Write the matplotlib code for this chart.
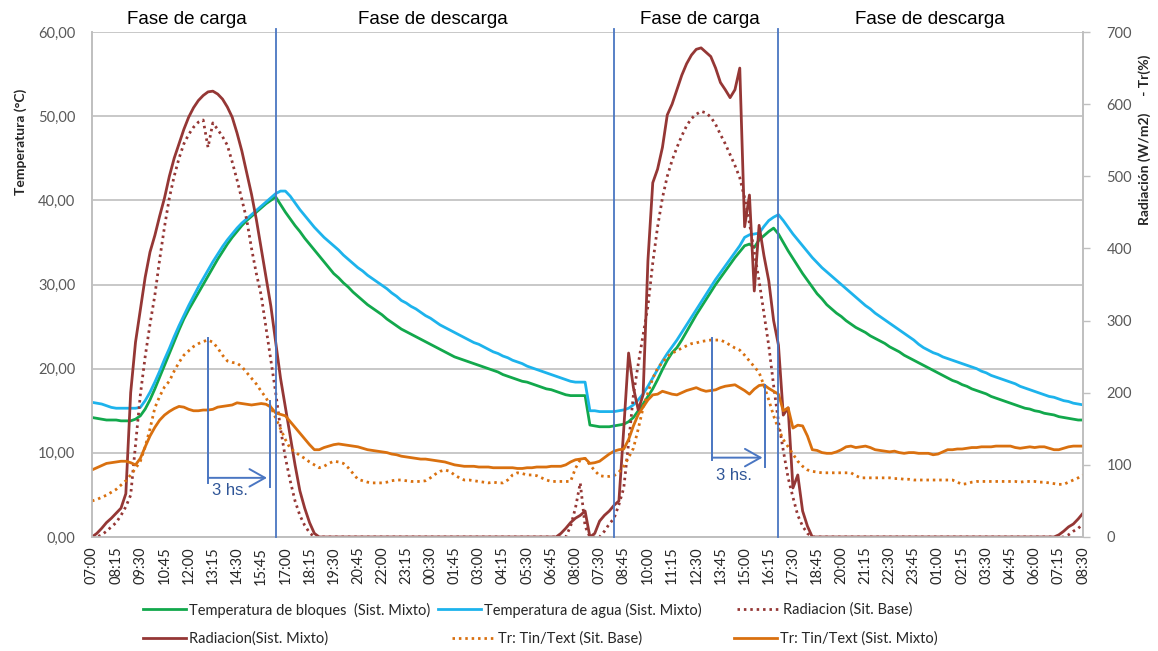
#Temperaturas, radiacion y Tr - sistema mixto vs sistema base (2 dias, cada 15 min)

import numpy as np
import matplotlib
matplotlib.use('Agg')
from matplotlib import pyplot as plt
from matplotlib import transforms

plt.rcParams['font.family'] = ['Lato', 'DejaVu Sans']

#tick labels of the category axis (every 5 points = 75 min)
xlabels = ['07:00', '08:15', '09:30', '10:45', '12:00', '13:15', '14:30', '15:45', '17:00', '18:15',
           '19:30', '20:45', '22:00', '23:15', '00:30', '01:45', '03:00', '04:15', '05:30', '06:45',
           '08:00', '07:30', '08:45', '10:00', '11:15', '12:30', '13:45', '15:00', '16:15', '17:30',
           '18:45', '20:00', '21:15', '22:30', '23:45', '01:00', '02:15', '03:30', '04:45', '06:00',
           '07:15', '08:30']

#Temperatura de bloques (Sist. Mixto), deg C
t_bloques = [14.2, 14.1, 14.0, 13.9, 13.9, 13.9, 13.8, 13.8, 13.8, 14.0,
             14.4, 15.2, 16.3, 17.6, 19.0, 20.4, 21.8, 23.2, 24.6, 25.9,
             27.0, 28.0, 29.0, 30.0, 31.0, 32.0, 33.0, 33.9, 34.8, 35.6,
             36.3, 37.0, 37.6, 38.1, 38.6, 39.1, 39.6, 40.0, 40.4, 39.5,
             38.6, 37.8, 37.0, 36.3, 35.5, 34.8, 34.1, 33.4, 32.7, 32.0, 31.3, 30.8,
             30.2, 29.7, 29.1, 28.6, 28.1, 27.6,
             27.2, 26.8, 26.4, 25.9, 25.5, 25.1, 24.7,
             24.4, 24.1, 23.8, 23.5, 23.2, 22.9, 22.6, 22.3, 22.0, 21.7,
             21.4, 21.2, 21.0, 20.8, 20.6, 20.4, 20.2, 20.0, 19.8, 19.6, 19.3,
             19.1, 18.9, 18.7, 18.5, 18.4, 18.2, 18.0, 17.8, 17.6, 17.5,
             17.3, 17.1, 16.9, 16.8, 16.8, 16.8, 16.8,
             13.3, 13.2, 13.1, 13.1, 13.1, 13.2, 13.3, 13.4,
             13.7, 14.2, 15.0, 15.8, 16.7, 17.6, 18.7, 19.9, 21.0, 21.9,
             22.5, 23.4, 24.4, 25.4, 26.4, 27.3, 28.2, 29.1, 30.0, 30.8,
             31.6, 32.4, 33.2, 33.9, 34.6, 34.8, 34.4, 35.3, 35.8, 36.3,
             36.7, 36.0,
             35.0, 34.0, 33.1, 32.2, 31.3, 30.5, 29.7, 28.9, 28.3, 27.6,
             27.1, 26.6, 26.2, 25.7, 25.3, 24.9, 24.6, 24.3, 23.9, 23.6,
             23.3, 23.0, 22.6, 22.3, 22.0, 21.6, 21.3, 21.0, 20.7, 20.4,
             20.1, 19.8, 19.5, 19.2, 18.9, 18.6, 18.4, 18.1, 17.9, 17.6, 17.4,
             17.2, 17.0, 16.7, 16.5, 16.3, 16.1, 15.9, 15.7, 15.5, 15.3,
             15.2, 15.0, 14.9, 14.7, 14.6, 14.5, 14.3, 14.2, 14.1, 14.0, 13.9, 13.9]

#Temperatura de agua (Sist. Mixto), deg C
t_agua = [16.0, 15.9, 15.8, 15.6, 15.4, 15.3, 15.3, 15.3, 15.3, 15.3,
          15.4, 16.2, 17.2, 18.4, 19.7, 21.1, 22.4, 23.8, 25.1, 26.3,
          27.5, 28.6, 29.7, 30.7, 31.7, 32.7, 33.6, 34.5, 35.3, 36.0,
          36.7, 37.3, 37.8, 38.3, 38.8, 39.3, 39.8, 40.3, 40.8, 41.1,
          41.1, 40.5, 39.7, 38.9, 38.2, 37.5, 36.8, 36.2, 35.6, 35.1, 34.6, 34.1,
          33.5, 33.0, 32.5, 32.0, 31.6, 31.1,
          30.7, 30.3, 29.9, 29.5, 29.0, 28.6, 28.1,
          27.8, 27.4, 27.1, 26.7, 26.3, 26.0, 25.6, 25.2, 24.9, 24.6,
          24.3, 24.0, 23.7, 23.4, 23.1, 22.9, 22.6, 22.3, 22.0, 21.8, 21.5,
          21.3, 21.0, 20.8, 20.6, 20.3, 20.1, 19.9, 19.7, 19.5, 19.3,
          19.1, 18.9, 18.7, 18.5, 18.4, 18.4, 18.4,
          15.0, 15.0, 14.9, 14.9, 14.9, 14.9, 15.0, 15.1,
          15.3, 15.7, 16.3, 17.0, 17.9, 18.9, 19.9, 20.9, 21.8, 22.6,
          23.4, 24.3, 25.2, 26.1, 27.0, 27.9, 28.8, 29.7, 30.6, 31.4,
          32.2, 33.0, 33.8, 34.6, 35.6, 35.9, 36.0, 36.1, 36.9, 37.6,
          38.0, 38.3,
          37.6, 36.8, 36.0, 35.3, 34.6, 33.9, 33.2, 32.6, 32.0, 31.5,
          31.0, 30.5, 30.0, 29.5, 29.0, 28.5, 28.0, 27.5, 27.1, 26.6,
          26.2, 25.8, 25.4, 25.0, 24.6, 24.2, 23.8, 23.4, 22.9, 22.5,
          22.2, 21.9, 21.7, 21.4, 21.2, 21.0, 20.8, 20.6, 20.4, 20.2, 20.0,
          19.7, 19.5, 19.2, 19.0, 18.8, 18.6, 18.4, 18.2, 17.9, 17.7,
          17.5, 17.3, 17.1, 16.9, 16.7, 16.6, 16.4, 16.2, 16.1, 15.9, 15.8, 15.7]

#Radiacion (Sit. Base), W/m2
rad_base = [0, 0, 3, 8, 14, 20, 30, 42, 58, 128,
            197, 250, 295, 335, 385, 430, 470, 500, 525, 545,
            558, 568, 575, 578, 540, 574, 565, 555, 543, 520,
            495, 468, 440, 400, 365, 335, 290, 245, 200, 150,
            110, 78, 50, 30, 16, 6, 0] + [0] * 51 + [0, 15, 40, 75, 15] + \
           [0, 0, 0, 8, 18, 26, 45, 68,
            130, 197, 240, 280, 320, 380, 430, 470, 500, 522,
            540, 556, 570, 580, 586, 590, 588, 582, 572, 558,
            545, 530, 515, 498, 470, 435, 395, 355, 310, 265,
            210, 160, 120, 82, 55, 30, 15, 5, 0, 0] + [0] * 51 + [3, 8, 12, 18]

#Radiacion (Sist. Mixto), W/m2
rad_mixto = [0, 5, 12, 20, 26, 33, 40, 60, 200, 270,
             315, 360, 395, 418, 445, 470, 500, 525, 545, 565,
             582, 595, 605, 612, 617, 618, 614, 607, 596, 582,
             560, 535, 505, 475, 440, 400, 360, 320, 270, 220,
             180, 140, 100, 64, 40, 20, 5, 0, 0, 0] + [0] * 47 + [5, 12, 20, 26, 30, 36] + \
            [0, 5, 22, 30, 36, 44, 50, 150,
             255, 207, 176, 197, 383, 491, 510, 540, 585, 600,
             620, 640, 656, 668, 676, 678, 672, 666, 650, 630,
             620, 609, 620, 650, 430, 474, 341, 432, 390, 355,
             300, 266, 169, 179, 68, 86, 36, 15, 0] + [0] * 50 + [3, 8, 14, 18, 25, 33]

#Tr: Tin/Text (Sit. Base), %
tr_base = [50, 52, 55, 58, 62, 66, 72, 78, 86, 95,
           105, 125, 150, 179, 195, 208, 216, 230, 242, 252,
           258, 264, 268, 271, 273, 270, 262, 252, 244, 242,
           241, 236, 228, 220, 212, 202, 193, 180, 165, 150,
           135, 123, 118, 113, 109, 104, 100, 96, 98, 102,
           105, 104, 102, 96, 88, 80, 78, 76, 75, 75,
           75, 76, 78, 79, 79, 78, 77, 77, 77, 78,
           82, 87, 91, 93, 91, 86, 82, 79, 79, 78,
           77, 76, 75, 76, 75, 75, 79, 86, 89, 88,
           86, 86, 85, 82, 79, 77, 77, 77, 77, 77,
           95, 107, 109,
           100, 92, 85, 84, 84, 85, 90, 98,
           110, 123, 150, 179, 200, 220, 234, 242, 250, 255,
           258, 262, 265, 268, 269, 271, 272, 273, 273, 273,
           270, 266, 262, 259, 252, 244, 236, 228, 210, 190,
           168, 150, 135, 125, 115, 105, 98, 93, 91, 90,
           89, 89, 89, 89, 89, 89, 89, 85, 82, 82,
           82, 82, 82, 82, 82, 81, 81, 80, 80, 79,
           79, 79, 79, 79, 79, 79, 79, 79, 76, 73,
           74, 76, 77, 77, 77, 77, 77, 77, 77, 77,
           77, 76, 77, 77, 77, 76, 76, 75, 74, 73,
           73, 76, 79, 82, 86]

#Tr: Tin/Text (Sist. Mixto), %
tr_mixto = [93, 96, 99, 102, 103, 104, 105, 105, 103, 100,
            109, 125, 140, 152, 162, 169, 174, 178, 181, 180,
            177, 175, 175, 176, 176, 177, 180, 181, 182, 183,
            186, 185, 184, 183, 184, 185, 184, 180, 172, 170,
            168, 160, 152, 144, 136, 128, 121, 121, 124, 126,
            128, 129, 128, 127, 126, 125, 123, 121, 120, 119,
            118, 117, 115, 114, 112, 111, 110, 109, 108, 108,
            107, 106, 105, 104, 102, 100, 99, 98, 98, 98,
            97, 97, 97, 96, 96, 96, 96, 96, 95, 95,
            96, 96, 97, 97, 97, 98, 98, 98, 100, 104,
            107, 108, 109,
            102, 103, 105, 110, 115, 119, 121, 122,
            135, 154, 170, 180, 190, 197, 198, 202, 200, 198,
            197, 200, 203, 205, 207, 204, 202, 203, 204, 207,
            209, 210, 211, 207, 203, 198, 205, 210, 211, 206,
            202, 198, 175, 179, 151, 155, 154, 140, 121, 120,
            117, 116, 116, 118, 121, 125, 126, 124, 125, 126,
            124, 121, 120, 119, 118, 119, 117, 116, 117, 117,
            116, 116, 116, 114, 115, 118, 121, 121, 122, 122,
            123, 124, 124, 125, 125, 125, 126, 126, 126, 126,
            124, 123, 124, 125, 124, 125, 125, 123, 121, 121,
            123, 125, 126, 126, 126]

#phase limits (point index) and the "3 hs." lags
fase_lims = [38, 108, 142]
fases = [('Fase de carga', 19.7), ('Fase de descarga', 70.5), ('Fase de carga', 125.8), ('Fase de descarga', 173.4)]
lag1 = (24, 36.8)
lag2 = (128.3, 139.3)

x = np.arange(len(t_bloques))

c_green = '#12A84C'
c_blue = '#1DB3EC'
c_red = '#953735'
c_orange = '#D9700F'
c_line = '#4A76C2'
dots = (0, (0.9, 1.4))

fig = plt.figure(figsize=(11.58, 6.51), dpi=100)
ax = fig.add_axes([92/1158., 1 - 537/651., 991/1158., 505/651.])
ax2 = ax.twinx()

l1, = ax.plot(x, t_bloques, color=c_green, lw=2.0, label='Temperatura de bloques  (Sist. Mixto)')
l2, = ax.plot(x, t_agua, color=c_blue, lw=2.0, label='Temperatura de agua (Sist. Mixto)')
l3, = ax2.plot(x, rad_base, color=c_red, lw=2.0, ls=dots, label='Radiacion (Sit. Base)')
l4, = ax2.plot(x, rad_mixto, color=c_red, lw=2.0, label='Radiacion(Sist. Mixto)')
l5, = ax2.plot(x, tr_base, color=c_orange, lw=2.0, ls=dots, label='Tr: Tin/Text (Sit. Base)')
l6, = ax2.plot(x, tr_mixto, color=c_orange, lw=2.0, label='Tr: Tin/Text (Sist. Mixto)')

ax.set_xlim(0, len(x) - 1)
ax.set_ylim(0, 60)
ax2.set_ylim(0, 700)
yt = np.arange(0, 61, 10)
ax.set_yticks(yt)
ax.set_yticklabels([('%.2f' % v).replace('.', ',') for v in yt])
ax2.set_yticks(np.arange(0, 701, 100))
ax.set_xticks(np.arange(0, len(x), 5))
ax.set_xticklabels(xlabels, rotation=90)

ax.grid(axis='y', color='#C8C8C8', lw=1.4)
ax.set_axisbelow(True)
for a in (ax, ax2):
    a.spines['top'].set_visible(False)
    for s in ('left', 'right', 'bottom'):
        a.spines[s].set_color('#BFBFBF')
        a.spines[s].set_linewidth(1.2)
ax.tick_params(axis='y', length=0, pad=12, labelsize=10.5, labelcolor='#595959')
ax.tick_params(axis='x', length=0, pad=7, labelsize=10.5, labelcolor='#262626')
ax2.tick_params(axis='y', length=5, width=1.0, color='#BFBFBF', pad=12, labelsize=10.5, labelcolor='#595959')

fig.text(21/1158., 1 - 142/651., 'Temperatura (°C)', rotation=90, ha='center', va='center',
         fontsize=10, fontweight='bold', color='#262626')
fig.text(1145/1158., 1 - 140/651., 'Radiación (W/m2)     - Tr(%)', rotation=90, ha='center', va='center',
         fontsize=10, fontweight='bold', color='#262626')

#phase limits
for xv in fase_lims:
    ax2.axvline(xv, ymin=0, ymax=1.005, color=c_line, lw=1.3, clip_on=False, zorder=10)

trf = transforms.blended_transform_factory(ax.transData, fig.transFigure)
for txt, xv in fases:
    ax.text(xv, 1 - 19/651., txt, transform=trf, ha='center', va='center', fontsize=13.5,
            family=['Liberation Sans', 'DejaVu Sans'], color='black')

#3 hs. lags (drawn in right axis units)
for (xa, xb), ya, yb_top, yb_bot, yarr, ytxt in [(lag1, 276, 75, 189, 82, 65),
                                                 (lag2, 276, 107, 211, 110, 85)]:
    ax2.plot([xa, xa], [ya, yb_top], color=c_line, lw=1.4, zorder=10)
    ax2.plot([xb, xb], [yb_bot, yarr - 13], color=c_line, lw=1.4, zorder=10)
    ax2.annotate('', xy=(xb - 0.6, yarr), xytext=(xa, yarr),
                 arrowprops=dict(arrowstyle='->,head_length=0.8,head_width=0.45', color=c_line,
                                 lw=1.4, mutation_scale=14, shrinkA=0, shrinkB=0), zorder=10)
    ax2.text(xa + 0.8, ytxt, '3 hs.', ha='left', va='center', fontsize=12,
             family=['Liberation Sans', 'DejaVu Sans'], color='#2F5597', zorder=10)

#legend, one entry at a time like the excel layout
leg_pos = [(l1, 143, 610), (l2, 438, 610), (l3, 737, 610),
           (l4, 143, 639), (l5, 452, 639), (l6, 734, 639)]
for h, px, py in leg_pos:
    fig.legend(handles=[h], loc='center left', bbox_to_anchor=(px/1158., 1 - py/651.),
               frameon=False, fontsize=10.5, handlelength=2.95, handletextpad=0.2,
               borderpad=0, borderaxespad=0, labelcolor='#262626')

fig.savefig('out.png', dpi=100)
